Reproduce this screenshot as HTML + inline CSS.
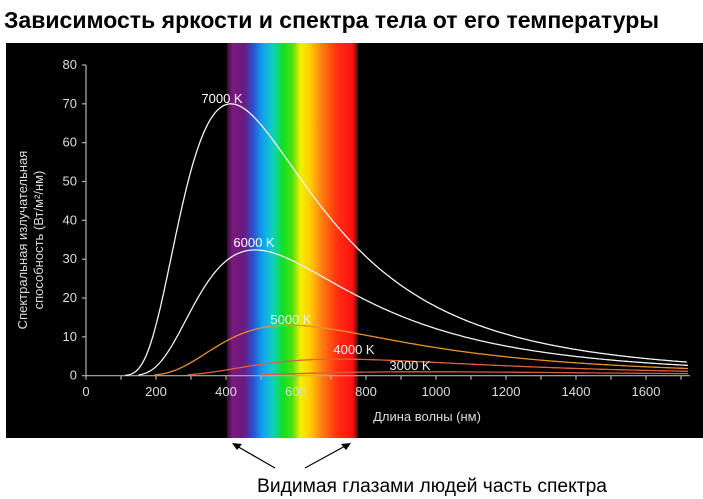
<!DOCTYPE html>
<html><head><meta charset="utf-8"><style>
html,body{margin:0;padding:0;background:#fff;}
svg{display:block;font-family:"Liberation Sans","DejaVu Sans",sans-serif;}
</style></head><body>
<svg id="s" width="703" height="499" viewBox="0 0 703 499" xmlns="http://www.w3.org/2000/svg">
<defs>
<linearGradient id="sp" x1="227" x2="358" y1="0" y2="0" gradientUnits="userSpaceOnUse">
<stop offset="0" stop-color="#3a0a3a"/>
<stop offset="0.04" stop-color="#7a1a7c"/>
<stop offset="0.13" stop-color="#6a1a80"/>
<stop offset="0.2" stop-color="#2a50d0"/>
<stop offset="0.27" stop-color="#10a0f0"/>
<stop offset="0.35" stop-color="#10d0c0"/>
<stop offset="0.43" stop-color="#10e020"/>
<stop offset="0.5" stop-color="#50e010"/>
<stop offset="0.56" stop-color="#f0f000"/>
<stop offset="0.63" stop-color="#ffd000"/>
<stop offset="0.72" stop-color="#ff8010"/>
<stop offset="0.84" stop-color="#ff3010"/>
<stop offset="0.96" stop-color="#ff1010"/>
<stop offset="1" stop-color="#401010"/>
</linearGradient>
</defs>
<text x="4" y="28" font-size="23" font-weight="bold" fill="#000" textLength="655" lengthAdjust="spacingAndGlyphs">Зависимость яркости и спектра тела от его температуры</text>
<rect x="6" y="43" width="697" height="395" fill="#000"/>
<rect x="227" y="43" width="131" height="395" fill="url(#sp)"/>
<g id="ax" stroke="#b0b0b0" stroke-width="1.2" fill="none"></g>
<g id="cv" fill="none" stroke-width="1.3"></g>
<g fill="#ddd" font-size="13" id="tl"></g>
<text x="30" y="240" font-size="13" fill="#ddd" text-anchor="middle" transform="rotate(-90 30 240)"><tspan x="30" dy="-3">Спектральная излучательная</tspan><tspan x="30" dy="16">способность (Вт/м²/нм)</tspan></text>
<text x="427" y="421" font-size="13" fill="#ddd" text-anchor="middle">Длина волны (нм)</text>
<text x="222" y="103" font-size="13" fill="#fff" text-anchor="middle">7000 K</text>
<text x="254" y="247" font-size="13" fill="#fff" text-anchor="middle">6000 K</text>
<text x="291" y="324" font-size="13" fill="#eee" text-anchor="middle">5000 K</text>
<text x="354" y="354" font-size="13" fill="#eee" text-anchor="middle">4000 K</text>
<text x="410" y="370" font-size="13" fill="#eee" text-anchor="middle">3000 K</text>
<g stroke="#000" stroke-width="1.2">
<line x1="275" y1="468" x2="235" y2="445"/>
<line x1="305" y1="468" x2="347" y2="445"/>
</g>
<polygon points="232,443 242,444 237,450" fill="#000"/>
<polygon points="351,443 341,444 346,450" fill="#000"/>
<text x="432" y="492" font-size="19" fill="#000" text-anchor="middle" textLength="350" lengthAdjust="spacingAndGlyphs">Видимая глазами людей часть спектра</text>
<script>
(function(){
var NS="http://www.w3.org/2000/svg";
function X(n){return 86+n*0.35;}
function Y(v){return 375.7-v*3.884;}
function el(p,t,a,txt){var e=document.createElementNS(NS,t);for(var k in a)e.setAttribute(k,a[k]);if(txt)e.textContent=txt;p.appendChild(e);return e;}
var ax=document.getElementById("ax"),tl=document.getElementById("tl"),cv=document.getElementById("cv");
el(ax,"line",{x1:86,y1:Y(80),x2:86,y2:Y(0)});
el(ax,"line",{x1:86,y1:Y(0),x2:690,y2:Y(0)});
for(var v=0;v<=80;v+=10){el(ax,"line",{x1:82,y1:Y(v),x2:86,y2:Y(v)});el(tl,"text",{x:77,y:Y(v)+4,"text-anchor":"end"},""+v);}
for(var n=0;n<=1700;n+=100){el(ax,"line",{x1:X(n),y1:Y(0),x2:X(n),y2:Y(0)+4});if(n%200==0)el(tl,"text",{x:X(n),y:396,"text-anchor":"middle"},""+n);}
function B(l,T){var x=14388000/(l*T);return Math.pow(1/l,5)/(Math.exp(x)-1);}
var ref=B(414,7000);
var cs=[[7000,"#f4f4f4",112],[6000,"#f0f0f0",150],[5000,"#e8902a",195],[4000,"#e0603a",290],[3000,"#d85a40",500]];
cs.forEach(function(c){var d="";for(var l=c[2];l<=1720;l+=5){var v=70*B(l,c[0])/ref;d+=(d?"L":"M")+X(l).toFixed(1)+","+Y(v).toFixed(1);}el(cv,"path",{d:d,stroke:c[1]});});
})();
</script>
</svg>
</body></html>
